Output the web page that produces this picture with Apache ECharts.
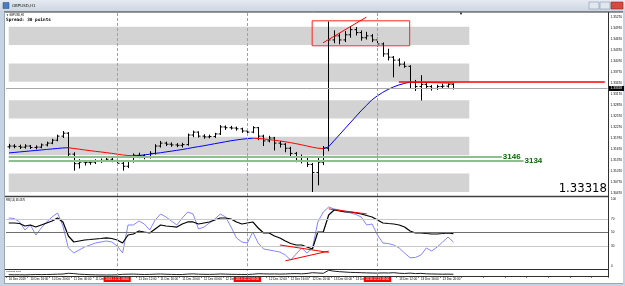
<!DOCTYPE html>
<html>
<head>
<meta charset="utf-8">
<script src="https://cdn.jsdelivr.net/npm/echarts@6/dist/echarts.min.js"></script>
<style>
html, body { margin: 0; padding: 0; background: #c6d3e3; }
#chart { width: 625px; height: 286px; }
</style>
</head>
<body>
<div id="chart"></div>
<script>
// GBPUSD H1 bars
var opens = [1.3173,1.3175,1.3174,1.3172,1.3175,1.3171,1.3172,1.3178,1.3183,1.3191,
  1.3202,1.3210,1.3153,1.3127,1.3131,1.3130,1.3131,1.3133,1.3136,1.3139,
  1.3136,1.3128,1.3120,1.3133,1.3150,1.3149,1.3144,1.3155,1.3175,1.3183,
  1.3180,1.3178,1.3177,1.3179,1.3205,1.3213,1.3202,1.3200,1.3201,1.3208,
  1.3227,1.3225,1.3224,1.3222,1.3216,1.3213,1.3225,1.3202,1.3189,1.3197,
  1.3183,1.3180,1.3169,1.3155,1.3136,1.3144,1.3125,1.3103,1.3131,1.3169,
  1.3464,1.3475,1.3464,1.3478,1.3492,1.3484,1.3470,1.3475,1.3464,1.3453,
  1.3426,1.3417,1.3409,1.3398,1.3392,1.3348,1.3337,1.3343,1.3337,1.3332,
  1.3337,1.3338,1.3343];
var highs = [1.3181,1.3180,1.3179,1.3180,1.3178,1.3177,1.3182,1.3187,1.3195,1.3206,
  1.3216,1.3213,1.3158,1.3139,1.3137,1.3137,1.3139,1.3141,1.3144,1.3143,
  1.3140,1.3132,1.3137,1.3155,1.3157,1.3153,1.3161,1.3180,1.3189,1.3187,
  1.3185,1.3183,1.3184,1.3209,1.3217,1.3215,1.3207,1.3206,1.3211,1.3232,
  1.3231,1.3230,1.3228,1.3225,1.3220,1.3229,1.3227,1.3206,1.3203,1.3200,
  1.3189,1.3183,1.3173,1.3159,1.3152,1.3148,1.3129,1.3143,1.3175,1.3514,
  1.3490,1.3482,1.3488,1.3502,1.3499,1.3490,1.3486,1.3480,1.3470,1.3457,
  1.3440,1.3420,1.3414,1.3405,1.3395,1.3355,1.3368,1.3349,1.3341,1.3342,
  1.3345,1.3346,1.3346];
var lows = [1.3168,1.3169,1.3167,1.3168,1.3167,1.3166,1.3169,1.3174,1.3180,1.3188,
  1.3197,1.3143,1.3108,1.3114,1.3122,1.3124,1.3126,1.3129,1.3132,1.3131,
  1.3123,1.3108,1.3115,1.3130,1.3142,1.3139,1.3141,1.3152,1.3171,1.3175,
  1.3173,1.3172,1.3171,1.3176,1.3199,1.3198,1.3195,1.3196,1.3197,1.3205,
  1.3219,1.3220,1.3217,1.3211,1.3208,1.3210,1.3191,1.3175,1.3185,1.3163,
  1.3171,1.3158,1.3143,1.3131,1.3128,1.3118,1.3050,1.3068,1.3123,1.3161,
  1.3455,1.3452,1.3458,1.3470,1.3476,1.3462,1.3465,1.3458,1.3446,1.3418,
  1.3408,1.3362,1.3392,1.3388,1.3332,1.3325,1.3299,1.3330,1.3326,1.3328,
  1.3331,1.3334,1.3329];
var closes = [1.3175,1.3174,1.3172,1.3175,1.3171,1.3172,1.3178,1.3183,1.3191,1.3202,
  1.3210,1.3153,1.3127,1.3131,1.3130,1.3131,1.3133,1.3136,1.3139,1.3136,
  1.3128,1.3120,1.3133,1.3150,1.3149,1.3144,1.3155,1.3175,1.3183,1.3180,
  1.3178,1.3177,1.3179,1.3205,1.3213,1.3202,1.3200,1.3201,1.3208,1.3227,
  1.3225,1.3224,1.3222,1.3216,1.3213,1.3225,1.3202,1.3189,1.3197,1.3183,
  1.3180,1.3169,1.3155,1.3136,1.3144,1.3125,1.3103,1.3131,1.3169,1.3464,
  1.3475,1.3464,1.3478,1.3492,1.3484,1.3470,1.3475,1.3464,1.3453,1.3426,
  1.3417,1.3409,1.3398,1.3392,1.3348,1.3337,1.3343,1.3337,1.3332,1.3337,
  1.3338,1.3343,1.33318];

// moving average (blue when rising, red when falling)
var maValues = [1.31562,1.31576,1.31590,1.31603,1.31617,1.31630,1.31644,1.31658,1.31671,1.31685,
  1.31698,1.31704,1.31685,1.31666,1.31644,1.31625,1.31606,1.31590,1.31571,1.31552,
  1.31530,1.31508,1.31492,1.31486,1.31494,1.31508,1.31527,1.31549,1.31568,1.31590,
  1.31611,1.31633,1.31655,1.31682,1.31709,1.31734,1.31758,1.31786,1.31813,1.31840,
  1.31867,1.31894,1.31916,1.31935,1.31952,1.31963,1.31957,1.31944,1.31927,1.31908,
  1.31889,1.31867,1.31843,1.31815,1.31786,1.31753,1.31720,1.31693,1.31682,1.31726,
  1.31889,1.32052,1.32216,1.32379,1.32542,1.32706,1.32855,1.33005,1.33114,1.33209,
  1.33291,1.33359,1.33413,1.33454,1.33490,1.33488,1.33485,1.33482,1.33478,1.33474,
  1.33470,1.33466,1.33462];

// RSI pane
var rsiSlow = [64.1,64.1,63.3,59.6,61.1,58.1,61.1,64.1,67.0,71.5,
  65.6,44.8,35.9,37.4,38.9,39.6,40.4,41.1,41.9,41.1,
  38.9,34.4,46.3,47.8,52.2,50.7,49.3,55.2,61.1,59.6,
  58.9,58.1,62.6,65.6,65.6,62.6,64.1,65.6,68.5,71.5,
  71.5,70.0,65.6,62.6,64.1,65.6,56.7,49.3,49.3,44.8,
  41.9,37.4,33.7,31.5,31.5,28.5,25.6,50.7,50.7,75.9,
  83.3,81.9,80.4,80.4,78.9,77.4,75.2,73.0,68.5,64.1,
  63.3,62.6,61.1,58.1,52.2,49.3,49.3,48.5,47.8,47.8,
  48.5,49.3,48.4];
var rsiFast = [71.5,70.7,65.6,53.7,61.1,46.3,56.7,65.6,73.0,78.9,
  59.6,27.0,19.6,24.1,28.5,31.5,34.4,35.9,37.4,35.9,
  30.0,19.6,61.1,61.1,67.0,62.6,53.7,68.5,77.4,73.0,
  67.0,61.1,71.5,80.4,77.4,55.2,58.1,64.1,70.0,77.4,
  73.0,58.1,41.9,35.9,34.4,50.7,34.4,25.6,24.1,22.6,
  21.1,16.7,9.3,18.1,27.0,19.6,27.0,65.6,80.4,87.8,
  84.8,83.3,81.1,78.9,76.7,73.0,61.1,62.6,46.3,34.4,
  33.7,31.5,27.0,19.6,12.6,13.0,16.7,27.0,22.6,28.5,
  35.9,43.3,35.9];

// bottom pane
var volumes = [22,20,21,19,22,24,23,25,27,30,
  33,45,40,30,26,22,20,18,17,18,
  20,28,30,32,28,25,27,30,33,29,
  27,25,24,32,35,30,28,27,29,34,
  31,28,27,26,25,30,38,36,33,35,
  32,34,38,40,36,42,55,50,45,95,
  80,72,66,60,58,55,52,50,48,52,
  50,55,46,42,48,40,44,36,34,32,
  30,31,29];

var priceLabels = ['1.30470','1.30770','1.31070','1.31370','1.31670','1.31970','1.32270','1.32570',
  '1.32870','1.33170','1.33470','1.33770','1.34070','1.34370','1.34670','1.34970','1.35270'];
var rsiLabels = [0, 30, 50, 70, 100];
var separatorBars = [20, 44, 68];
var priceBands = [[1.3450, 1.3500], [1.3350, 1.3400], [1.3250, 1.3300], [1.3150, 1.3200], [1.3050, 1.3100]];
var bidPrice = 1.33318;
var levelPrices = [1.3146, 1.3134];

// hourly categories, chart keeps empty space on the right
var months = ['Jan','Feb','Mar','Apr','May','Jun','Jul','Aug','Sep','Oct','Nov','Dec'];
var totalSlots = 111;
var categories = [];
var shortLabels = [];
var t0 = Date.UTC(2019, 11, 10, 12);
function pad(n) { return (n < 10 ? '0' : '') + n; }
for (var i = 0; i < totalSlots; i++) {
  var d = new Date(t0 + i * 3600000);
  var hm = pad(d.getUTCHours()) + ':' + pad(d.getUTCMinutes());
  categories.push(d.getUTCFullYear() + '.' + pad(d.getUTCMonth() + 1) + '.' + pad(d.getUTCDate()) + ' ' + hm);
  shortLabels.push(i === 0 ? d.getUTCDate() + ' ' + months[d.getUTCMonth()] + ' 2019'
    : d.getUTCDate() + ' ' + months[d.getUTCMonth()] + ' ' + hm);
}

var ohlc = [];
for (var i = 0; i < closes.length; i++) {
  ohlc.push([i, opens[i], highs[i], lows[i], closes[i]]);
}

// colour pieces from MA slope
var maPieces = [];
var pStart = 0;
for (var i = 1; i < maValues.length - 1; i++) {
  var up = maValues[i] >= maValues[i - 1];
  var nextUp = maValues[i + 1] >= maValues[i];
  if (up !== nextUp) {
    maPieces.push({ gte: pStart, lt: i, color: up ? '#0000ff' : '#ff0000' });
    pStart = i;
  }
}
maPieces.push({ gte: pStart, color: maValues[maValues.length - 1] >= maValues[maValues.length - 2] ? '#0000ff' : '#ff0000' });

function renderBar(params, api) {
  var x = Math.round(api.coord([api.value(0), api.value(1)])[0]) + 0.5;
  var yo = api.coord([api.value(0), api.value(1)])[1];
  var yh = api.coord([api.value(0), api.value(2)])[1];
  var yl = api.coord([api.value(0), api.value(3)])[1];
  var yc = api.coord([api.value(0), api.value(4)])[1];
  var st = { stroke: '#000', lineWidth: 1 };
  return {
    type: 'group',
    children: [
      { type: 'line', shape: { x1: x, y1: yh, x2: x, y2: yl }, style: st },
      { type: 'line', shape: { x1: x - 2, y1: yo, x2: x, y2: yo }, style: st },
      { type: 'line', shape: { x1: x, y1: yc, x2: x + 2, y2: yc }, style: st }
    ]
  };
}

var sepDash = { color: '#f08080', type: [3, 2], width: 1 };
function sepLines(withLabel) {
  return separatorBars.map(function (b) {
    return {
      xAxis: categories[b],
      lineStyle: sepDash,
      label: withLabel ? {
        show: true, position: 'start', formatter: categories[b], distance: 1,
        fontSize: 3, color: '#fff', backgroundColor: '#ff0000', padding: [1, 2]
      } : { show: false }
    };
  });
}

var chart = echarts.init(document.getElementById('chart'));

var option = {
  animation: false,
  backgroundColor: 'transparent',
  grid: [
    { left: 6, right: 17, top: 12, height: 184 },
    { left: 6, right: 17, top: 198.75, height: 67.5 },
    { left: 6, right: 17, top: 270, height: 6 }
  ],
  xAxis: [0, 1, 2].map(function (g) {
    return {
      type: 'category', gridIndex: g, data: categories, boundaryGap: true,
      axisLine: { show: false }, splitLine: { show: false },
      axisTick: g === 2 ? { show: true, interval: 3, length: 1.5, lineStyle: { color: '#000' } } : { show: false },
      axisLabel: g === 2 ? {
        show: true, interval: 3, align: 'left', fontSize: 3, color: '#000', margin: 2,
        formatter: function (v, idx) {
          if (idx >= closes.length || separatorBars.indexOf(idx) >= 0) return '';
          return shortLabels[idx];
        }
      } : { show: false }
    };
  }),
  yAxis: [
    {
      type: 'value', gridIndex: 0, position: 'right', min: 1.3039, max: 1.3540, interval: 0.0001,
      axisLine: { show: false }, axisTick: { show: false }, splitLine: { show: false },
      axisLabel: {
        fontSize: 3.2, color: '#000', margin: 3,
        formatter: function (v) { var s = v.toFixed(5); return priceLabels.indexOf(s) >= 0 ? s : ''; }
      }
    },
    {
      type: 'value', gridIndex: 1, position: 'right', min: 0, max: 100, interval: 10,
      axisLine: { show: false }, axisTick: { show: false }, splitLine: { show: false },
      axisLabel: {
        fontSize: 3, color: '#000', margin: 3,
        formatter: function (v) { return rsiLabels.indexOf(Math.round(v)) >= 0 ? String(Math.round(v)) : ''; }
      }
    },
    {
      type: 'value', gridIndex: 2, position: 'right', min: 0, max: 100,
      axisLine: { show: false }, axisTick: { show: false }, splitLine: { show: false }, axisLabel: { show: false }
    }
  ],
  visualMap: [{
    type: 'piecewise', show: false, dimension: 0, seriesIndex: 1, pieces: maPieces
  }],
  series: [
    {
      type: 'custom', name: 'GBPUSD', xAxisIndex: 0, yAxisIndex: 0, z: 3,
      renderItem: renderBar, data: ohlc, encode: { x: 0, y: [1, 2, 3, 4] },
      markArea: {
        silent: true,
        data: priceBands.map(function (b) {
          return [
            { xAxis: categories[0], yAxis: b[0], itemStyle: { color: '#d3d3d3' } },
            { xAxis: categories[85], yAxis: b[1] }
          ];
        }).concat([[
          { xAxis: categories[56], yAxis: 1.3448, itemStyle: { color: 'rgba(0,0,0,0)', borderColor: '#ff2020', borderWidth: 1 } },
          { xAxis: categories[74], yAxis: 1.3516 }
        ]])
      },
      markLine: {
        silent: true, symbol: 'none', precision: 5,
        data: [
          {
            yAxis: bidPrice, lineStyle: { color: '#a8a8a8', type: 'solid', width: 1 },
            label: { show: true, position: 'end', formatter: '1.33318', fontSize: 3.2, color: '#fff',
              backgroundColor: '#000', padding: [1, 2], distance: 1 }
          },
          [
            { coord: [categories[72], 1.3349], lineStyle: { color: '#ff0000', type: 'solid', width: 1.5 }, label: { show: false } },
            { coord: [categories[110], 1.3349] }
          ],
          [
            { coord: [categories[58], 1.3456], lineStyle: { color: '#ff0000', type: 'solid', width: 1 }, label: { show: false } },
            { coord: [categories[66], 1.3526] }
          ],
          [
            { coord: [categories[0], levelPrices[0]], lineStyle: { color: '#8fbf8f', type: 'solid', width: 2 },
              label: { show: true, position: 'end', formatter: '3146', fontSize: 8, fontWeight: 'bold', color: '#0a640a', distance: 1 } },
            { coord: [categories[91], levelPrices[0]] }
          ],
          [
            { coord: [categories[0], levelPrices[1]], lineStyle: { color: '#8fbf8f', type: 'solid', width: 2 },
              label: { show: true, position: 'end', formatter: '3134', fontSize: 8, fontWeight: 'bold', color: '#0a640a', distance: 1 } },
            { coord: [categories[95], levelPrices[1]] }
          ]
        ].concat(sepLines(false))
      }
    },
    {
      type: 'line', name: 'MA', xAxisIndex: 0, yAxisIndex: 0, data: maValues, z: 4,
      symbol: 'none', lineStyle: { width: 1 }
    },
    {
      type: 'line', name: 'RSI fast', xAxisIndex: 1, yAxisIndex: 1, data: rsiFast,
      symbol: 'none', lineStyle: { color: '#8585ff', width: 1 }, itemStyle: { color: '#8585ff' },
      markLine: {
        silent: true, symbol: 'none', precision: 4,
        data: [
          { yAxis: 70, lineStyle: { color: '#c8c8c8', type: 'solid', width: 1 }, label: { show: false } },
          { yAxis: 30, lineStyle: { color: '#c8c8c8', type: 'solid', width: 1 }, label: { show: false } },
          { yAxis: 50, lineStyle: { color: '#6e6e6e', type: 'solid', width: 1.2 }, label: { show: false } },
          [
            { coord: [categories[50], 31.5], lineStyle: { color: '#ff0000', type: 'solid', width: 1 }, label: { show: false } },
            { coord: [categories[59], 20.5] }
          ],
          [
            { coord: [categories[51], 8], lineStyle: { color: '#ff0000', type: 'solid', width: 1 }, label: { show: false } },
            { coord: [categories[59], 22.5] }
          ],
          [
            { coord: [categories[59], 85], lineStyle: { color: '#ff0000', type: 'solid', width: 1 }, label: { show: false } },
            { coord: [categories[66], 77.5] }
          ]
        ].concat(sepLines(false))
      }
    },
    {
      type: 'line', name: 'RSI', xAxisIndex: 1, yAxisIndex: 1, data: rsiSlow, z: 4,
      symbol: 'none', lineStyle: { color: '#000', width: 1.2 }, itemStyle: { color: '#000' },
      markLine: {
        silent: true, symbol: 'none', precision: 4,
        data: [{
          yAxis: 48.4376, lineStyle: { opacity: 0 },
          label: { show: true, position: 'end', formatter: '48.44', fontSize: 2.6, color: '#fff',
            backgroundColor: '#404040', padding: [0.5, 1.5], distance: 1 }
        }]
      }
    },
    {
      type: 'line', name: 'Volumes', xAxisIndex: 2, yAxisIndex: 2, data: volumes,
      symbol: 'none', lineStyle: { color: '#1e1e1e', width: 1 }, itemStyle: { color: '#1e1e1e' },
      markLine: { silent: true, symbol: 'none', data: sepLines(true) }
    }
  ],
  graphic: [
    { type: 'rect', z: -20, shape: { x: 0, y: 0, width: 625, height: 286 }, style: { fill: '#c6d3e3' } },
    { type: 'rect', z: -19, shape: { x: 0, y: 0, width: 625, height: 11 },
      style: { fill: new echarts.graphic.LinearGradient(0, 0, 0, 1, [{ offset: 0, color: '#e6ebf2' }, { offset: 1, color: '#cdd6e2' }]) } },
    { type: 'rect', z: -19, shape: { x: 4, y: 12, width: 619, height: 271 }, style: { fill: '#ffffff' } },
    { type: 'rect', z: -18, shape: { x: 3, y: 2.5, width: 6, height: 6 }, style: { fill: '#4a7cc0', stroke: '#2b4f85', lineWidth: 0.5 } },
    { type: 'text', z: 20, x: 12, y: 5.5, style: { text: 'GBPUSD,H1', fontSize: 4, fill: '#1a1a1a', verticalAlign: 'middle', fontFamily: 'DejaVu Sans' } },
    { type: 'rect', z: 20, shape: { x: 589, y: 2, width: 10, height: 7 }, style: { fill: '#e1e7ef', stroke: '#8898ae', lineWidth: 0.6 } },
    { type: 'rect', z: 20, shape: { x: 600, y: 2, width: 10, height: 7 }, style: { fill: '#e1e7ef', stroke: '#8898ae', lineWidth: 0.6 } },
    { type: 'rect', z: 20, shape: { x: 611, y: 2, width: 12, height: 7 }, style: { fill: '#d6493f', stroke: '#8c2a22', lineWidth: 0.6 } },
    // pane borders
    { type: 'line', z: 30, shape: { x1: 4, y1: 12, x2: 623, y2: 12 }, style: { stroke: '#303030', lineWidth: 1 } },
    { type: 'line', z: 30, shape: { x1: 4, y1: 196.5, x2: 608, y2: 196.5 }, style: { stroke: '#404040', lineWidth: 1.5 } },
    { type: 'line', z: 30, shape: { x1: 4, y1: 269.5, x2: 608, y2: 269.5 }, style: { stroke: '#303030', lineWidth: 1.2 } },
    { type: 'line', z: 30, shape: { x1: 4, y1: 276.5, x2: 608, y2: 276.5 }, style: { stroke: '#303030', lineWidth: 1 } },
    { type: 'line', z: 30, shape: { x1: 608.5, y1: 12, x2: 608.5, y2: 277 }, style: { stroke: '#303030', lineWidth: 1 } },
    { type: 'line', z: 30, shape: { x1: 4.5, y1: 12, x2: 4.5, y2: 283 }, style: { stroke: '#9aa6b6', lineWidth: 1 } },
    { type: 'line', z: 30, shape: { x1: 4, y1: 283.5, x2: 623, y2: 283.5 }, style: { stroke: '#9aa6b6', lineWidth: 1 } },
    // texts
    { type: 'text', z: 30, x: 6, y: 14.8, style: { text: '▼ GBPUSD,H1', fontSize: 2.6, fill: '#000', verticalAlign: 'middle' } },
    { type: 'text', z: 30, x: 6, y: 19.5, style: { text: 'Spread: 30 points', fontSize: 4.4, fontWeight: 'bold', fill: '#000', verticalAlign: 'middle', fontFamily: 'DejaVu Sans Mono' } },
    { type: 'text', z: 30, x: 461, y: 13.5, style: { text: '▼', fontSize: 4, fill: '#000', align: 'center', verticalAlign: 'middle' } },
    { type: 'text', z: 30, x: 607, y: 188.5, style: { text: '1.33318', fontSize: 13, fill: '#000', align: 'right', verticalAlign: 'middle', fontFamily: '"Liberation Sans Narrow", "DejaVu Sans Condensed", sans-serif' } },
    { type: 'text', z: 30, x: 6, y: 200, style: { text: 'RSI(14) 48.4376', fontSize: 2.6, fill: '#000', verticalAlign: 'middle' } },
    { type: 'text', z: 30, x: 6, y: 271.6, style: { text: 'Volumes 1874', fontSize: 2.4, fill: '#000', verticalAlign: 'middle' } }
  ]
};

chart.setOption(option);
</script>
</body>
</html>
